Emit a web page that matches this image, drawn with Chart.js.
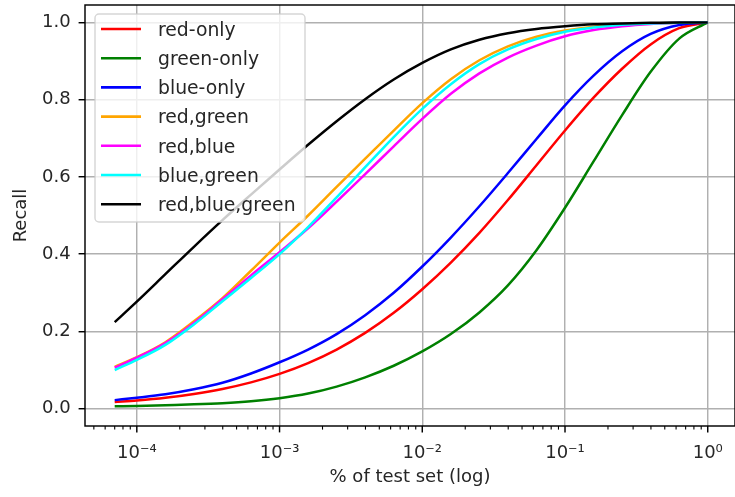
<!DOCTYPE html>
<html lang="en">
<head>
<meta charset="UTF-8">
<title>Recall vs % of test set</title>
<script src="https://cdn.jsdelivr.net/npm/chart.js"></script>
<style>
  html, body { margin: 0; padding: 0; overflow: hidden; background: #fff; }
  #wrap { width: 736px; height: 497px; }
</style>
</head>
<body>
<div id="wrap"><canvas id="recallChart"></canvas></div>
<script>
// fraction of test set (x, log axis)
const pctTestSet = [7e-5, 1e-4, 1.585e-4, 2.512e-4, 3.981e-4, 6.31e-4,
                    1e-3, 1.585e-3, 2.512e-3, 3.981e-3, 6.31e-3,
                    1e-2, 0.01585, 0.02512, 0.03981, 0.0631,
                    0.1, 0.1585, 0.2512, 0.3981, 0.631, 1.0];

const redOnly   = [0.017, 0.021, 0.028, 0.038, 0.051, 0.068, 0.090, 0.118, 0.153, 0.196, 0.248,
                   0.309, 0.378, 0.455, 0.540, 0.630, 0.720, 0.805, 0.880, 0.943, 0.985, 1.0];
const greenOnly = [0.006, 0.007, 0.009, 0.011, 0.014, 0.019, 0.027, 0.039, 0.057, 0.081, 0.111,
                   0.148, 0.193, 0.249, 0.319, 0.410, 0.520, 0.640, 0.760, 0.872, 0.958, 1.0];
const blueOnly  = [0.022, 0.028, 0.037, 0.050, 0.067, 0.091, 0.120, 0.153, 0.193, 0.242, 0.300,
                   0.368, 0.443, 0.524, 0.610, 0.698, 0.785, 0.862, 0.925, 0.970, 0.993, 1.0];
const redGreen  = [0.108, 0.133, 0.172, 0.226, 0.286, 0.357, 0.430, 0.500, 0.574, 0.647, 0.720,
                   0.791, 0.853, 0.902, 0.938, 0.963, 0.979, 0.989, 0.995, 0.997, 0.999, 1.0];
const redBlue   = [0.106, 0.132, 0.170, 0.222, 0.283, 0.345, 0.405, 0.467, 0.536, 0.607, 0.679,
                   0.750, 0.815, 0.868, 0.909, 0.940, 0.964, 0.980, 0.990, 0.996, 0.999, 1.0];
const blueGreen = [0.100, 0.126, 0.165, 0.218, 0.278, 0.338, 0.400, 0.470, 0.547, 0.625, 0.703,
                   0.776, 0.840, 0.892, 0.930, 0.957, 0.976, 0.987, 0.994, 0.997, 0.999, 1.0];
const allThree  = [0.224, 0.277, 0.348, 0.419, 0.488, 0.554, 0.619, 0.683, 0.744, 0.801, 0.852,
                   0.895, 0.930, 0.955, 0.972, 0.983, 0.990, 0.995, 0.997, 0.999, 1.0, 1.0];

const seriesNames  = ['red-only', 'green-only', 'blue-only', 'red,green', 'red,blue', 'blue,green', 'red,blue,green'];
const seriesValues = [redOnly, greenOnly, blueOnly, redGreen, redBlue, blueGreen, allThree];
const seriesColors = ['#ff0000', '#008000', '#0000ff', '#ffa500', '#ff00ff', '#00ffff', '#000000'];

const yTicks = [0, 0.2, 0.4, 0.6, 0.8, 1.0];
const xDecades = [1e-4, 1e-3, 1e-2, 1e-1, 1];
const xDecadeLabels = ['10\u207B\u2074', '10\u207B\u00B3', '10\u207B\u00B2', '10\u207B\u00B9', '10\u2070'];

const FONT = "'DejaVu Sans', sans-serif";
const GRID = '#b0b0b0';
const TEXT = '#262626';
const X_MIN = Math.pow(10, -4.363);
const X_MAX = Math.pow(10, 0.191);

function isDecade(v) {
    const l = Math.log10(v);
    return Math.abs(l - Math.round(l)) < 1e-6;
}
function decadeIndex(v) {
    if (!isDecade(v)) return -1;
    const l = Math.round(Math.log10(v));
    return xDecades.findIndex(d => Math.round(Math.log10(d)) === l);
}

// tick marks on x, axes box and the legend
const framePlugin = {
    id: 'frame',
    afterDraw(chart) {
        const { ctx, chartArea: a } = chart;
        const x = chart.scales.x;
        ctx.save();
        ctx.strokeStyle = '#000';
        x.ticks.forEach(t => {
            const px = x.getPixelForValue(t.value);
            const major = isDecade(t.value);
            ctx.lineWidth = major ? 1.45 : 1.1;
            ctx.beginPath();
            ctx.moveTo(px, a.bottom);
            ctx.lineTo(px, a.bottom + (major ? 6.4 : 3.6));
            ctx.stroke();
        });
        ctx.lineWidth = 1.45;
        ctx.strokeRect(a.left, a.top, a.right - a.left, a.bottom - a.top);

        // legend
        const lx = a.left + 10, ly = a.top + 9;
        ctx.beginPath();
        ctx.roundRect(lx, ly, 210, 208, 4);
        ctx.fillStyle = 'rgba(255,255,255,0.8)';
        ctx.fill();
        ctx.strokeStyle = 'rgba(204,204,204,0.8)';
        ctx.lineWidth = 1.45;
        ctx.stroke();
        ctx.font = '18.8px ' + FONT;
        ctx.textBaseline = 'alphabetic';
        ctx.textAlign = 'left';
        chart.data.datasets.forEach((ds, i) => {
            const y = a.top + 24 + 29.2 * i;
            ctx.strokeStyle = ds.borderColor;
            ctx.lineWidth = 2.6;
            ctx.beginPath();
            ctx.moveTo(a.left + 16, y);
            ctx.lineTo(a.left + 56, y);
            ctx.stroke();
            ctx.fillStyle = TEXT;
            ctx.fillText(ds.label, a.left + 73, y + 6.8);
        });
        ctx.restore();
    }
};

const datasets = seriesNames.map((name, i) => ({
    label: name,
    data: pctTestSet.map((xv, j) => ({ x: xv, y: seriesValues[i][j] })),
    borderColor: seriesColors[i],
    backgroundColor: seriesColors[i],
    borderWidth: 2.5,
    pointRadius: 0,
    cubicInterpolationMode: 'monotone',
    order: seriesNames.length - i
}));

new Chart(document.getElementById('recallChart'), {
    type: 'line',
    data: { datasets: datasets },
    options: {
        responsive: true,
        maintainAspectRatio: false,
        animation: false,
        layout: { padding: { top: 5, right: 1, left: 0, bottom: 0 } },
        plugins: { legend: { display: false }, tooltip: { enabled: false } },
        scales: {
            x: {
                type: 'logarithmic',
                min: X_MIN,
                max: X_MAX,
                afterBuildTicks: scale => {
                    const vals = [];
                    for (let e = -5; e <= 0; e++) {
                        for (let k = 1; k <= 9; k++) {
                            const v = k * Math.pow(10, e);
                            if (v >= X_MIN && v <= X_MAX) vals.push({ value: v });
                        }
                    }
                    scale.ticks = vals;
                },
                ticks: {
                    autoSkip: false,
                    maxRotation: 0,
                    padding: 17,
                    color: TEXT,
                    font: { family: FONT, size: 18 },
                    callback: v => {
                        const i = decadeIndex(v);
                        return i >= 0 ? xDecadeLabels[i] : '';
                    }
                },
                grid: {
                    color: c => (c.tick && isDecade(c.tick.value)) ? GRID : 'rgba(0,0,0,0)',
                    lineWidth: 1.45,
                    drawTicks: false
                },
                border: { display: false },
                title: {
                    display: true,
                    text: '% of test set (log)',
                    color: TEXT,
                    font: { family: FONT, size: 18 },
                    padding: { top: 0, bottom: 9 }
                },
                afterFit: scale => {
                    scale.height = 71;
                    scale.paddingLeft = 0;
                    scale.paddingRight = 0;
                }
            },
            y: {
                min: -0.045,
                max: 1.045,
                afterBuildTicks: scale => { scale.ticks = yTicks.map(v => ({ value: v })); },
                ticks: {
                    padding: 8,
                    color: TEXT,
                    font: { family: FONT, size: 18 },
                    callback: v => v.toFixed(1)
                },
                grid: {
                    color: GRID,
                    lineWidth: 1.45,
                    tickLength: 6.4,
                    tickColor: '#000',
                    tickWidth: 1.45
                },
                border: { display: false },
                title: {
                    display: true,
                    text: 'Recall',
                    color: TEXT,
                    font: { family: FONT, size: 18 },
                    padding: { top: 11, bottom: 0 }
                },
                afterFit: scale => {
                    scale.width = 85;
                    scale.paddingTop = 0;
                    scale.paddingBottom = 0;
                }
            }
        }
    },
    plugins: [framePlugin]
});
</script>
</body>
</html>
